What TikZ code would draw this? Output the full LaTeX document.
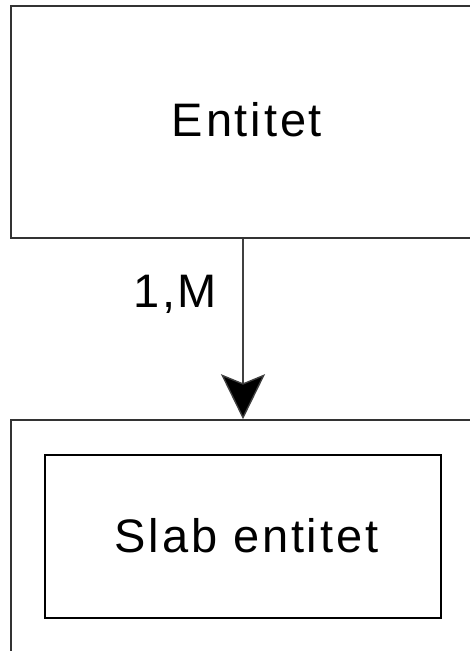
\documentclass[tikz,border=0pt]{standalone}
\usepackage{fontspec}
\setmainfont{Liberation Sans}[LetterSpace=6]
\usetikzlibrary{arrows.meta}
\begin{document}
\begin{tikzpicture}[x=1pt,y=-1pt,
  entbox/.style={draw=black!80, line width=1.6pt, rectangle, inner sep=0pt},
  lbl/.style={font=\fontsize{47}{56}\selectfont, inner sep=0pt}]
\useasboundingbox (0,0) rectangle (470,651);
\node[entbox, minimum width=470pt, minimum height=232pt] (top) at (246,122) {};
\node[lbl] (toptext) at (247,120) {Entitet};
\node[entbox, minimum width=470pt, minimum height=280pt] (outer) at (246,560) {};
\node[entbox, draw=black, minimum width=396pt, minimum height=163pt] (inner) at (243,536.5) {};
\node[lbl] (innertext) at (246.5,536) {Slab entitet};
\draw[line width=1.4pt, draw=black!75, -{Stealth[length=45pt,width=44pt,inset=9pt,fill=black]}]
  (inner.north |- top.south) -- (inner.north |- outer.north) coordinate (tip);
\node[lbl, anchor=west] (card) at (133,294) {1,M};
\end{tikzpicture}
\end{document}
